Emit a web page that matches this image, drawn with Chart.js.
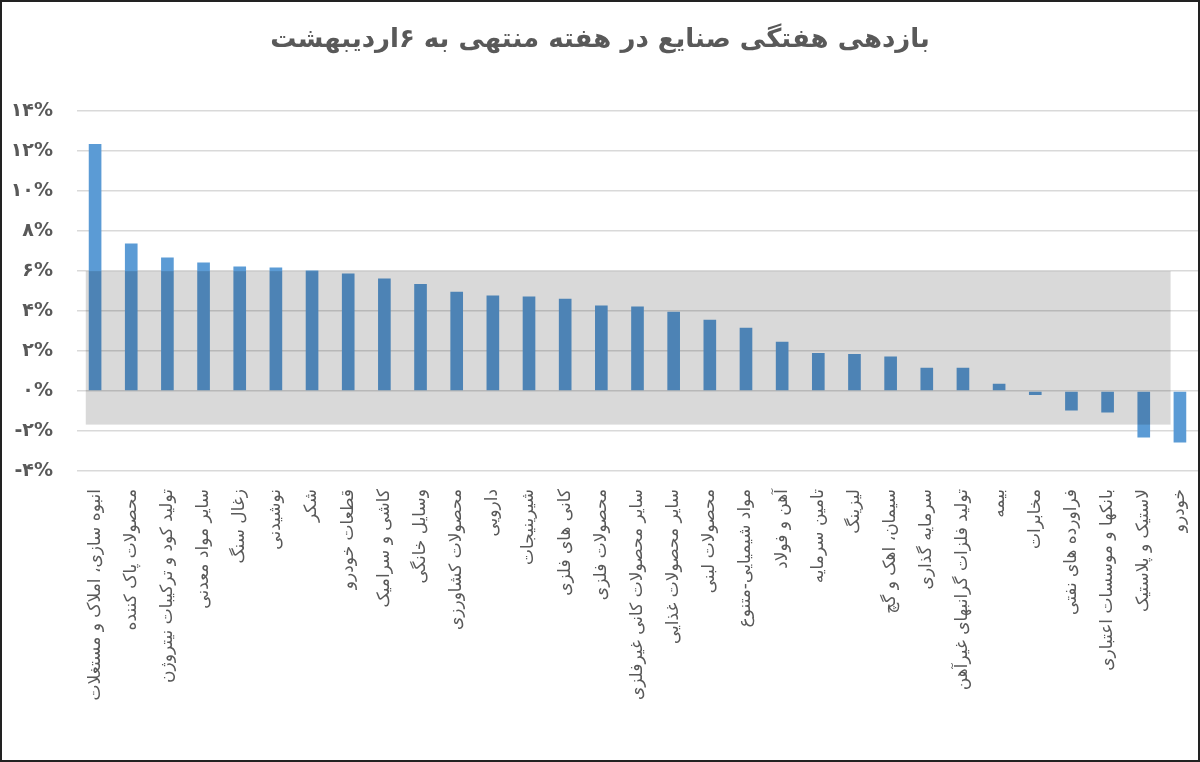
<!DOCTYPE html>
<html>
<head>
<meta charset="utf-8">
<script src="https://cdn.jsdelivr.net/npm/chart.js@4"></script>
<style>
  html, body { margin: 0; padding: 0; background: #fff; }
  #wrap { width: 1196px; height: 758px; border: 2px solid #222; position: relative; }
  canvas { display: block; }
</style>
</head>
<body>
<div id="wrap"><canvas id="myChart" width="1196" height="758"></canvas></div>
<script>
// setup
const title = 'بازدهی هفتگی صنایع در هفته منتهی به ۶اردیبهشت';

const labels = [
  'انبوه سازی، املاک و مستغلات',
  'محصولات پاک کننده',
  'تولید کود و ترکیبات نیتروژن',
  'سایر مواد معدنی',
  'زغال سنگ',
  'نوشیدنی',
  'شکر',
  'قطعات خودرو',
  'کاشی و سرامیک',
  'وسایل خانگی',
  'محصولات کشاورزی',
  'دارویی',
  'شیرینیجات',
  'کانی های فلزی',
  'محصولات فلزی',
  'سایر محصولات کانی غیرفلزی',
  'سایر محصولات غذایی',
  'محصولات لبنی',
  'مواد شیمیایی-متنوع',
  'آهن و فولاد',
  'تامین سرمایه',
  'لیزینگ',
  'سیمان، اهک و گچ',
  'سرمایه گذاری',
  'تولید فلزات گرانبهای غیرآهن',
  'بیمه',
  'مخابرات',
  'فراورده های نفتی',
  'بانکها و موسسات اعتباری',
  'لاستیک و پلاستیک',
  'خودرو'
];

// weekly return, percent
const returns = [
  12.36, 7.38, 6.68, 6.43, 6.23, 6.18, 6.03, 5.88, 5.63, 5.35,
  4.97, 4.78, 4.73, 4.62, 4.28, 4.23, 3.97, 3.57, 3.17, 2.47,
  1.9, 1.85, 1.73, 1.16, 1.16, 0.37, -0.2, -0.97, -1.07, -2.32,
  -2.57
];

const yMin = -4;
const yMax = 14;
const yStep = 2;

const faDigits = '۰۱۲۳۴۵۶۷۸۹';
const toFa = n => String(n).replace(/[0-9]/g, d => faDigits[d]);

// grey band behind the watermark
const band = { top: 6, bottom: -1.68 };

const bandPlugin = {
  id: 'band',
  afterDatasetsDraw(chart) {
    const { ctx } = chart;
    const x = chart.scales.x;
    const y = chart.scales.y;
    const bar = chart.getDatasetMeta(0).data[0];
    const half = bar ? bar.width / 2 : 6;
    const x0 = x.getPixelForValue(0) - half - 3;
    const x1 = x.getPixelForValue(labels.length - 1) - half - 3;
    const y0 = y.getPixelForValue(band.top);
    const y1 = y.getPixelForValue(band.bottom);
    ctx.save();
    ctx.fillStyle = 'rgba(0, 0, 0, 0.15)';
    ctx.fillRect(x0, y0, x1 - x0, y1 - y0);
    ctx.restore();
  }
};

const data = {
  labels: labels,
  datasets: [{
    label: 'بازدهی',
    data: returns,
    backgroundColor: '#5b9bd5',
    borderWidth: 0,
    categoryPercentage: 1,
    barPercentage: 0.35
  }]
};

// config
const config = {
  type: 'bar',
  data: data,
  options: {
    responsive: false,
    animation: false,
    layout: { padding: { left: 0, right: 0, top: 0, bottom: 0 } },
    plugins: {
      legend: { display: false },
      tooltip: { enabled: false },
      title: {
        display: true,
        text: title,
        color: '#595959',
        font: { family: 'DejaVu Sans', size: 26, weight: 'bold' },
        padding: { top: 23, bottom: 55 }
      }
    },
    scales: {
      x: {
        grid: { display: false },
        border: { display: false },
        ticks: {
          autoSkip: false,
          maxRotation: 90,
          minRotation: 90,
          padding: 10,
          color: '#595959',
          font: { family: 'DejaVu Sans', size: 17 }
        },
        afterFit(scale) {
          scale.height = 289;
          scale.paddingLeft = 0;
          scale.paddingRight = 0;
        }
      },
      y: {
        min: yMin,
        max: yMax,
        border: { display: false },
        grid: { color: '#d9d9d9', lineWidth: 1.5, drawTicks: false },
        ticks: {
          stepSize: yStep,
          padding: 24,
          color: '#595959',
          font: { family: 'DejaVu Sans', size: 19, weight: 'bold' },
          callback: v => toFa(v) + '%'
        },
        afterFit(scale) { scale.width = 75; }
      }
    }
  },
  plugins: [bandPlugin]
};

const myChart = new Chart(document.getElementById('myChart'), config);
</script>
</body>
</html>
